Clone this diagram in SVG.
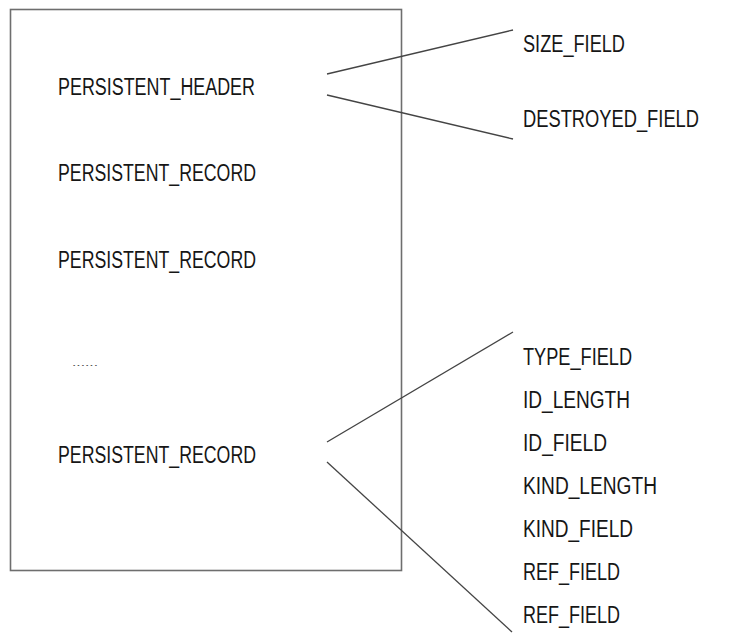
<svg xmlns="http://www.w3.org/2000/svg" width="745" height="633" viewBox="0 0 745 633">
  <style>
    .lbl { font-family: "Liberation Sans", Arial, sans-serif; font-size: 23px; fill: #161616; }
    .dots { font-family: "Liberation Sans", Arial, sans-serif; font-size: 9px; fill: #555; }
    .frame { fill: none; stroke: #6e6e6e; stroke-width: 1.6; }
    .link { stroke: #444; stroke-width: 1.3; fill: none; }
  </style>
  <rect width="745" height="633" fill="#ffffff"/>

  <!-- storage file layout -->
  <g id="file">
    <rect class="frame" x="10.5" y="9.5" width="391" height="561"/>
  </g>
  <g id="header">
    <text class="lbl" x="58" y="95" textLength="197" lengthAdjust="spacingAndGlyphs">PERSISTENT_HEADER</text>
  </g>
  <g id="record1">
    <text class="lbl" x="58" y="181" textLength="198" lengthAdjust="spacingAndGlyphs">PERSISTENT_RECORD</text>
  </g>
  <g id="record2">
    <text class="lbl" x="58" y="268" textLength="198" lengthAdjust="spacingAndGlyphs">PERSISTENT_RECORD</text>
  </g>
  <g id="ellipsis">
    <text class="dots" x="72" y="366" textLength="26" lengthAdjust="spacingAndGlyphs">......</text>
  </g>
  <g id="recordN">
    <text class="lbl" x="58" y="463" textLength="198" lengthAdjust="spacingAndGlyphs">PERSISTENT_RECORD</text>
  </g>

  <!-- header fields -->
  <g id="header-fields">
    <text class="lbl" x="523" y="52" textLength="102" lengthAdjust="spacingAndGlyphs">SIZE_FIELD</text>
    <text class="lbl" x="523" y="127" textLength="176" lengthAdjust="spacingAndGlyphs">DESTROYED_FIELD</text>
  </g>

  <!-- record fields -->
  <g id="record-fields">
    <text class="lbl" x="523" y="365" textLength="109" lengthAdjust="spacingAndGlyphs">TYPE_FIELD</text>
    <text class="lbl" x="523" y="408" textLength="107" lengthAdjust="spacingAndGlyphs">ID_LENGTH</text>
    <text class="lbl" x="523" y="451" textLength="84" lengthAdjust="spacingAndGlyphs">ID_FIELD</text>
    <text class="lbl" x="523" y="494" textLength="134" lengthAdjust="spacingAndGlyphs">KIND_LENGTH</text>
    <text class="lbl" x="523" y="537" textLength="110" lengthAdjust="spacingAndGlyphs">KIND_FIELD</text>
    <text class="lbl" x="523" y="580" textLength="97" lengthAdjust="spacingAndGlyphs">REF_FIELD</text>
    <text class="lbl" x="523" y="623" textLength="97" lengthAdjust="spacingAndGlyphs">REF_FIELD</text>
  </g>

  <!-- expansion brackets -->
  <g id="connectors">
    <line class="link" x1="327" y1="74" x2="513" y2="30"/>
    <line class="link" x1="327" y1="95" x2="513" y2="139"/>
    <line class="link" x1="327" y1="442" x2="513" y2="332"/>
    <line class="link" x1="327" y1="462" x2="512" y2="632"/>
  </g>
</svg>
